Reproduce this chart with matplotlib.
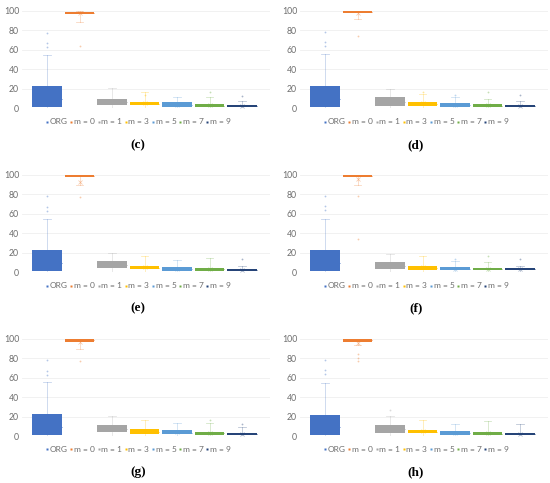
import numpy as np
import matplotlib
matplotlib.use("Agg")
import matplotlib.pyplot as plt
from matplotlib.lines import Line2D

plt.rcParams['font.family'] = ['Lato', 'DejaVu Sans']

series = ['ORG', 'm = 0', 'm = 1', 'm = 3', 'm = 5', 'm = 7', 'm = 9']
colors = ['#4472C4', '#ED7D31', '#A5A5A5', '#FFC000', '#5B9BD5', '#70AD47', '#264478']
panels = ['c', 'd', 'e', 'f', 'g', 'h']

# box stats per panel (rows) and series (columns)
q1 = [[1, 97, 3, 3, 1, 1, 1],
      [1, 98, 2.4, 1.7, 1, 1, 0.7],
      [1, 97.5, 4, 3, 1.4, 1.4, 1.4],
      [1, 98, 3, 2.4, 1.7, 1.7, 1.7],
      [1, 97.3, 4.4, 1.7, 1.7, 1, 1],
      [1, 97.3, 2.7, 2.7, 1, 1, 1]]
q3 = [[23, 99.3, 9.6, 6, 6, 4, 3],
      [23, 99.8, 11, 6, 5, 4, 3],
      [23, 99.8, 11, 6.5, 5.5, 4.5, 3.4],
      [23, 99.8, 10, 6.5, 5.5, 4.5, 3.8],
      [23, 99.6, 11, 7.5, 6, 4.4, 3.4],
      [22, 99.6, 11, 6, 5, 4, 2.7]]
med = [[9, 98, 6, 4.5, 3, 2.5, 2],
       [9, 99, 6, 4, 3, 2.5, 2],
       [9, 98.8, 7, 4.5, 3, 3, 2.4],
       [9, 99, 6.5, 4.5, 3.5, 3, 2.7],
       [9, 98.5, 7.5, 4.5, 3.5, 2.7, 2.2],
       [9, 98.5, 7, 4.5, 3, 2.5, 1.8]]
mean = [[14, 97.5, 7, 5, 3.5, 3, 2.5],
        [14, 98, 7, 5, 3.5, 3, 2.5],
        [14, 93, 7.5, 5, 3.5, 3, 2.5],
        [14, 96, 7, 5, 3.5, 3, 2.7],
        [14, 96.5, 8, 5, 4, 3, 2.5],
        [14, 96, 7.5, 5, 3.5, 3, 2.2]]
whis_lo = [[0, 89, 0, 0, 0, 0, 0],
           [0, 92, 0, 0, 0, 0, 0],
           [0, 90, 0, 0, 0, 0, 0],
           [0, 90, 0, 0, 0, 0, 0],
           [0, 90, 0, 0, 0, 0, 0],
           [0, 94, 0, 0, 0, 0, 0]]
whis_hi = [[55, 100, 20.5, 16, 11, 11, 7],
           [56, 100, 19.5, 14, 11, 9, 7],
           [55, 100, 20, 16, 12, 14, 6.5],
           [55, 100, 19, 16, 11, 10, 6],
           [56, 100, 20.5, 17, 13, 13.7, 9.6],
           [55, 100, 21, 16, 12, 15.5, 12]]
fliers = [[[63, 67, 77], [64], [], [13], [], [16], [12]],
          [[64, 68, 78], [74], [], [17], [13], [16], [13]],
          [[63, 67, 78], [77], [], [], [], [], [13]],
          [[64, 68, 78], [34, 78], [], [], [13], [16], [13]],
          [[63, 67, 78], [77], [], [], [], [17], [12]],
          [[64, 68, 78], [77, 80, 85], [27], [], [], [], []]]

W, H = 550, 483
fig = plt.figure(figsize=(W / 100, H / 100), dpi=100)

col_x = [22, 300]
ax_w = 248
row_zero = [108, 272, 436]
ax_h = 97
legend_y = [122, 286, 449]
label_y = [145, 308, 472]
text_col = '#6E6E6E'

for k, p in enumerate(panels):
    r, c = divmod(k, 2)
    left = col_x[c]
    ax = fig.add_axes([left / W, 1 - row_zero[r] / H, ax_w / W, ax_h / H])
    pos = np.arange(1, len(series) + 1)
    for j in range(len(series)):
        col = colors[j]
        st = dict(q1=q1[k][j], q3=q3[k][j], med=med[k][j], mean=mean[k][j],
                  whislo=whis_lo[k][j], whishi=whis_hi[k][j],
                  fliers=np.array(fliers[k][j]))
        ax.bxp([st], positions=[pos[j]], widths=0.9, patch_artist=True,
               showmeans=True, capwidths=0.22,
               boxprops=dict(facecolor=col, edgecolor=col, linewidth=0),
               medianprops=dict(color=col, linewidth=0.6),
               whiskerprops=dict(color=col, linewidth=0.6, alpha=0.3),
               capprops=dict(color=col, linewidth=0.6, alpha=0.3),
               flierprops=dict(marker='o', markersize=1.3, markerfacecolor=col,
                               markeredgecolor='none', alpha=0.4),
               meanprops=dict(marker='x', markersize=2.5, markeredgecolor=col,
                              markeredgewidth=0.5, alpha=0.45))
    ax.set_xlim(0.23, 7.86)
    ax.set_ylim(0, 100)
    ax.set_yticks(np.arange(0, 101, 20))
    ax.set_xticks([])
    ax.yaxis.grid(True, color='#EFEFEF', linewidth=0.6)
    ax.set_axisbelow(True)
    for s in ax.spines.values():
        s.set_visible(False)
    ax.axhline(0, color='#E4E4E4', linewidth=0.6, zorder=0)
    ax.tick_params(axis='y', length=0, labelsize=6.3, labelcolor=text_col, pad=2)

    handles = [Line2D([], [], linestyle='none', marker='s', markersize=2,
                      markerfacecolor=colors[j], markeredgecolor='none')
               for j in range(len(series))]
    cx = left + 116
    fig.legend(handles, series, loc='center', ncol=7, frameon=False,
               bbox_to_anchor=(cx / W, 1 - legend_y[r] / H),
               fontsize=6, labelcolor=text_col, handlelength=0.45,
               handletextpad=0.1, columnspacing=0.2, borderpad=0)
    fig.text(cx / W, 1 - label_y[r] / H, '(' + p + ')', ha='center', va='center',
             fontsize=9.5, fontweight='bold', family='Liberation Serif')

fig.savefig('out.png', dpi=100)
